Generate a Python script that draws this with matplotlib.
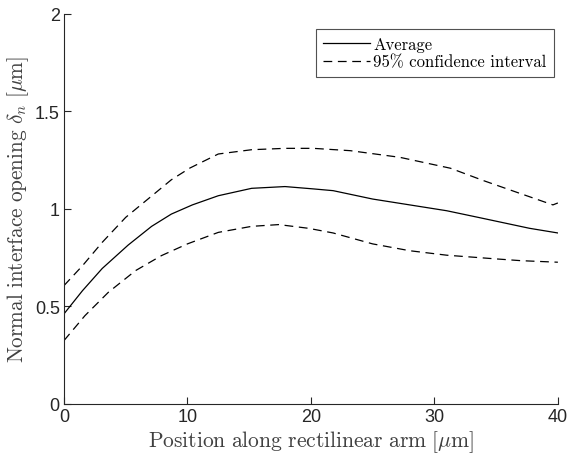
import matplotlib
matplotlib.use("Agg")
import matplotlib.pyplot as plt

plt.rcParams['mathtext.fontset'] = 'cm'

# Average curve
avg_x = [0.0, 1.5, 3.1, 5.2, 7.1, 8.7, 10.4, 12.5, 15.2, 17.9, 20.2, 21.8, 25.0, 28.0, 31.0, 33.7, 37.7, 40.0]
avg_y = [0.462, 0.581, 0.695, 0.815, 0.911, 0.974, 1.021, 1.068, 1.106, 1.115, 1.103, 1.094, 1.051, 1.021, 0.991, 0.955, 0.901, 0.877]

# Upper 95% bound
up_x = [0.0, 1.5, 3.1, 5.0, 7.8, 8.7, 10.2, 12.5, 15.2, 17.9, 20.2, 23.2, 27.2, 31.3, 34.0, 36.7, 39.6, 40.0]
up_y = [0.607, 0.709, 0.829, 0.957, 1.103, 1.150, 1.210, 1.282, 1.304, 1.311, 1.311, 1.299, 1.265, 1.209, 1.145, 1.085, 1.021, 1.031]

# Lower 95% bound
lo_x = [0.0, 1.7, 3.6, 5.8, 7.9, 10.0, 12.5, 15.2, 17.4, 19.8, 21.8, 25.0, 28.0, 31.0, 35.0, 37.0, 40.0]
lo_y = [0.325, 0.453, 0.573, 0.684, 0.761, 0.821, 0.880, 0.911, 0.920, 0.901, 0.877, 0.821, 0.786, 0.763, 0.744, 0.735, 0.727]

xticks = [0, 10, 20, 30, 40]
yticks = [0, 0.5, 1, 1.5, 2]
ytick_labels = ['0', '0.5', '1', '1.5', '2']

fig = plt.figure(figsize=(5.71, 4.60), dpi=100)
ax = fig.add_axes([0.112, 0.1196, 0.865, 0.8478])

dash = (0, (7, 4.5))
ax.plot(avg_x, avg_y, color='black', lw=0.9, label='Average')
ax.plot(up_x, up_y, color='black', lw=0.9, linestyle=dash, label='95% confidence interval')
ax.plot(lo_x, lo_y, color='black', lw=0.9, linestyle=dash)

ax.set_xlim(0, 40)
ax.set_ylim(0, 2)
ax.set_xticks(xticks)
ax.set_yticks(yticks)
ax.set_yticklabels(ytick_labels)

gray = '#262626'
for s in ['top', 'right']:
    ax.spines[s].set_visible(False)
for s in ['left', 'bottom']:
    ax.spines[s].set_color(gray)
    ax.spines[s].set_linewidth(0.8)
ax.tick_params(direction='in', length=5, width=0.8, colors=gray, labelsize=13, pad=3)
for lab in ax.get_xticklabels() + ax.get_yticklabels():
    lab.set_fontfamily('Liberation Sans')

ax.set_xlabel(r'$\mathrm{Position\ along\ rectilinear\ arm\ [\mu m]}$', fontsize=15.5, color='#404040', labelpad=2)
ax.set_ylabel(r'$\mathrm{Normal\ interface\ opening\ }\delta_n\ \mathrm{[\mu m]}$', fontsize=15.3, color='#404040', labelpad=3)

leg = ax.legend(loc='upper right', bbox_to_anchor=(0.9925, 0.962), fancybox=False, edgecolor=gray,
                prop={'family': ['cmr10', 'DejaVu Serif'], 'size': 12},
                handlelength=2.8, borderpad=0.45, labelspacing=0.15, handletextpad=0.2,
                borderaxespad=0.0)
leg.get_frame().set_linewidth(0.8)

fig.savefig('out.png', dpi=100)
